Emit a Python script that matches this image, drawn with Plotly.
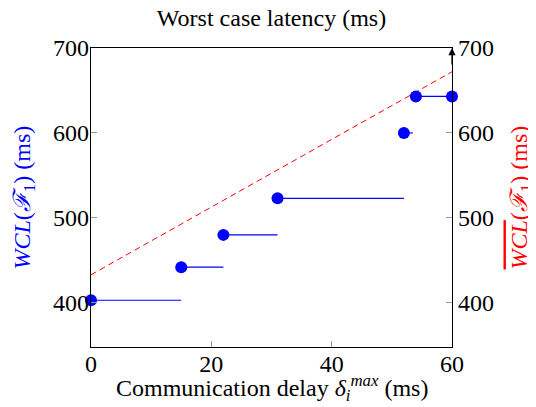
import plotly.graph_objects as go

# Data
delay_start = [0, 15, 22, 31, 52, 54]      # x of each point (ms)
delay_end = [15, 22, 31, 52, 53.5, 60]      # end of horizontal step (ms)
wcl = [403, 442, 480, 523, 600, 643]        # WCL(F1) (ms)
last_point_x = [60]
last_point_y = [643]
bound_x = [0, 60]
bound_y = [433, 672]                        # red dashed upper bound
x_ticks = [0, 20, 40, 60]
y_ticks = [400, 500, 600, 700]

BLUE = "#0000ff"
RED = "#ff0000"
FONT = "Liberation Serif"

seg_x, seg_y = [], []
for xs, xe, y in zip(delay_start, delay_end, wcl):
    seg_x += [xs, xe, None]
    seg_y += [y, y, None]

fig = go.Figure()
fig.add_trace(go.Scatter(x=bound_x, y=bound_y, mode="lines",
                         line=dict(color=RED, width=1, dash="6px,4px"),
                         hoverinfo="skip", showlegend=False))
fig.add_trace(go.Scatter(x=seg_x, y=seg_y, mode="lines",
                         line=dict(color=BLUE, width=1.1),
                         showlegend=False, cliponaxis=False))
fig.add_trace(go.Scatter(x=delay_start + last_point_x, y=wcl + last_point_y,
                         mode="markers", marker=dict(color=BLUE, size=12),
                         showlegend=False, cliponaxis=False))
# invisible trace for the right axis
fig.add_trace(go.Scatter(x=bound_x, y=bound_y, yaxis="y2", mode="lines",
                         line=dict(width=0), opacity=0, hoverinfo="skip",
                         showlegend=False))

axis_common = dict(showgrid=False, zeroline=False, showline=True,
                   linecolor="black", linewidth=1.2, ticks="inside",
                   tickcolor="#999999", ticklen=6, automargin=False,
                   tickfont=dict(family=FONT, size=24, color="black"))

# page body adds an 8px offset, so the figure is 8px smaller than the window
fig.update_layout(
    width=528, height=399,
    margin=dict(l=83, r=84, t=40, b=60),
    paper_bgcolor="white", plot_bgcolor="white",
    title=dict(text="Worst case latency (ms)", x=0.5, xanchor="center",
               xref="paper", yref="container", y=1 - 10 / 399, yanchor="middle",
               font=dict(family=FONT, size=24, color="black")),
    xaxis=dict(range=[0, 60], tickvals=x_ticks, mirror=True,
               ticklabelstandoff=-5, **axis_common),
    yaxis=dict(range=[348, 700], tickvals=y_ticks, ticklabelstandoff=-4,
               **axis_common),
    yaxis2=dict(range=[348, 700], tickvals=y_ticks, overlaying="y", side="right",
                **axis_common),
)

fig.add_annotation(xref="paper", yref="paper", x=0.5, y=-41 / 299,
                   xanchor="center", yanchor="middle", showarrow=False,
                   text="Communication delay <i>δ</i><sub><i>i</i></sub><sup><i>max</i></sup> (ms)",
                   font=dict(family=FONT, size=24, color="black"))
fig.add_annotation(xref="paper", yref="paper", x=-68 / 361, y=0.5,
                   xanchor="center", yanchor="middle", showarrow=False, textangle=-90,
                   text="<i>WCL</i>(<i>ℱ</i><sub>1</sub>) (ms)",
                   font=dict(family=FONT, size=24, color=BLUE))
fig.add_annotation(xref="paper", yref="paper", x=1 + 68 / 361, y=0.5,
                   xanchor="center", yanchor="middle", showarrow=False, textangle=-90,
                   text="<span style=\"text-decoration:overline\"><i>WCL</i></span>(<i>ℱ</i><sub>1</sub>) (ms)",
                   font=dict(family=FONT, size=24, color=RED))

fig.add_annotation(xref="paper", yref="paper", x=1, y=1.0, ax=0, ay=18,
                   showarrow=True, arrowhead=2, arrowsize=1.2, arrowwidth=1.2,
                   arrowcolor="black", text="")

fig.write_html("out.html")
